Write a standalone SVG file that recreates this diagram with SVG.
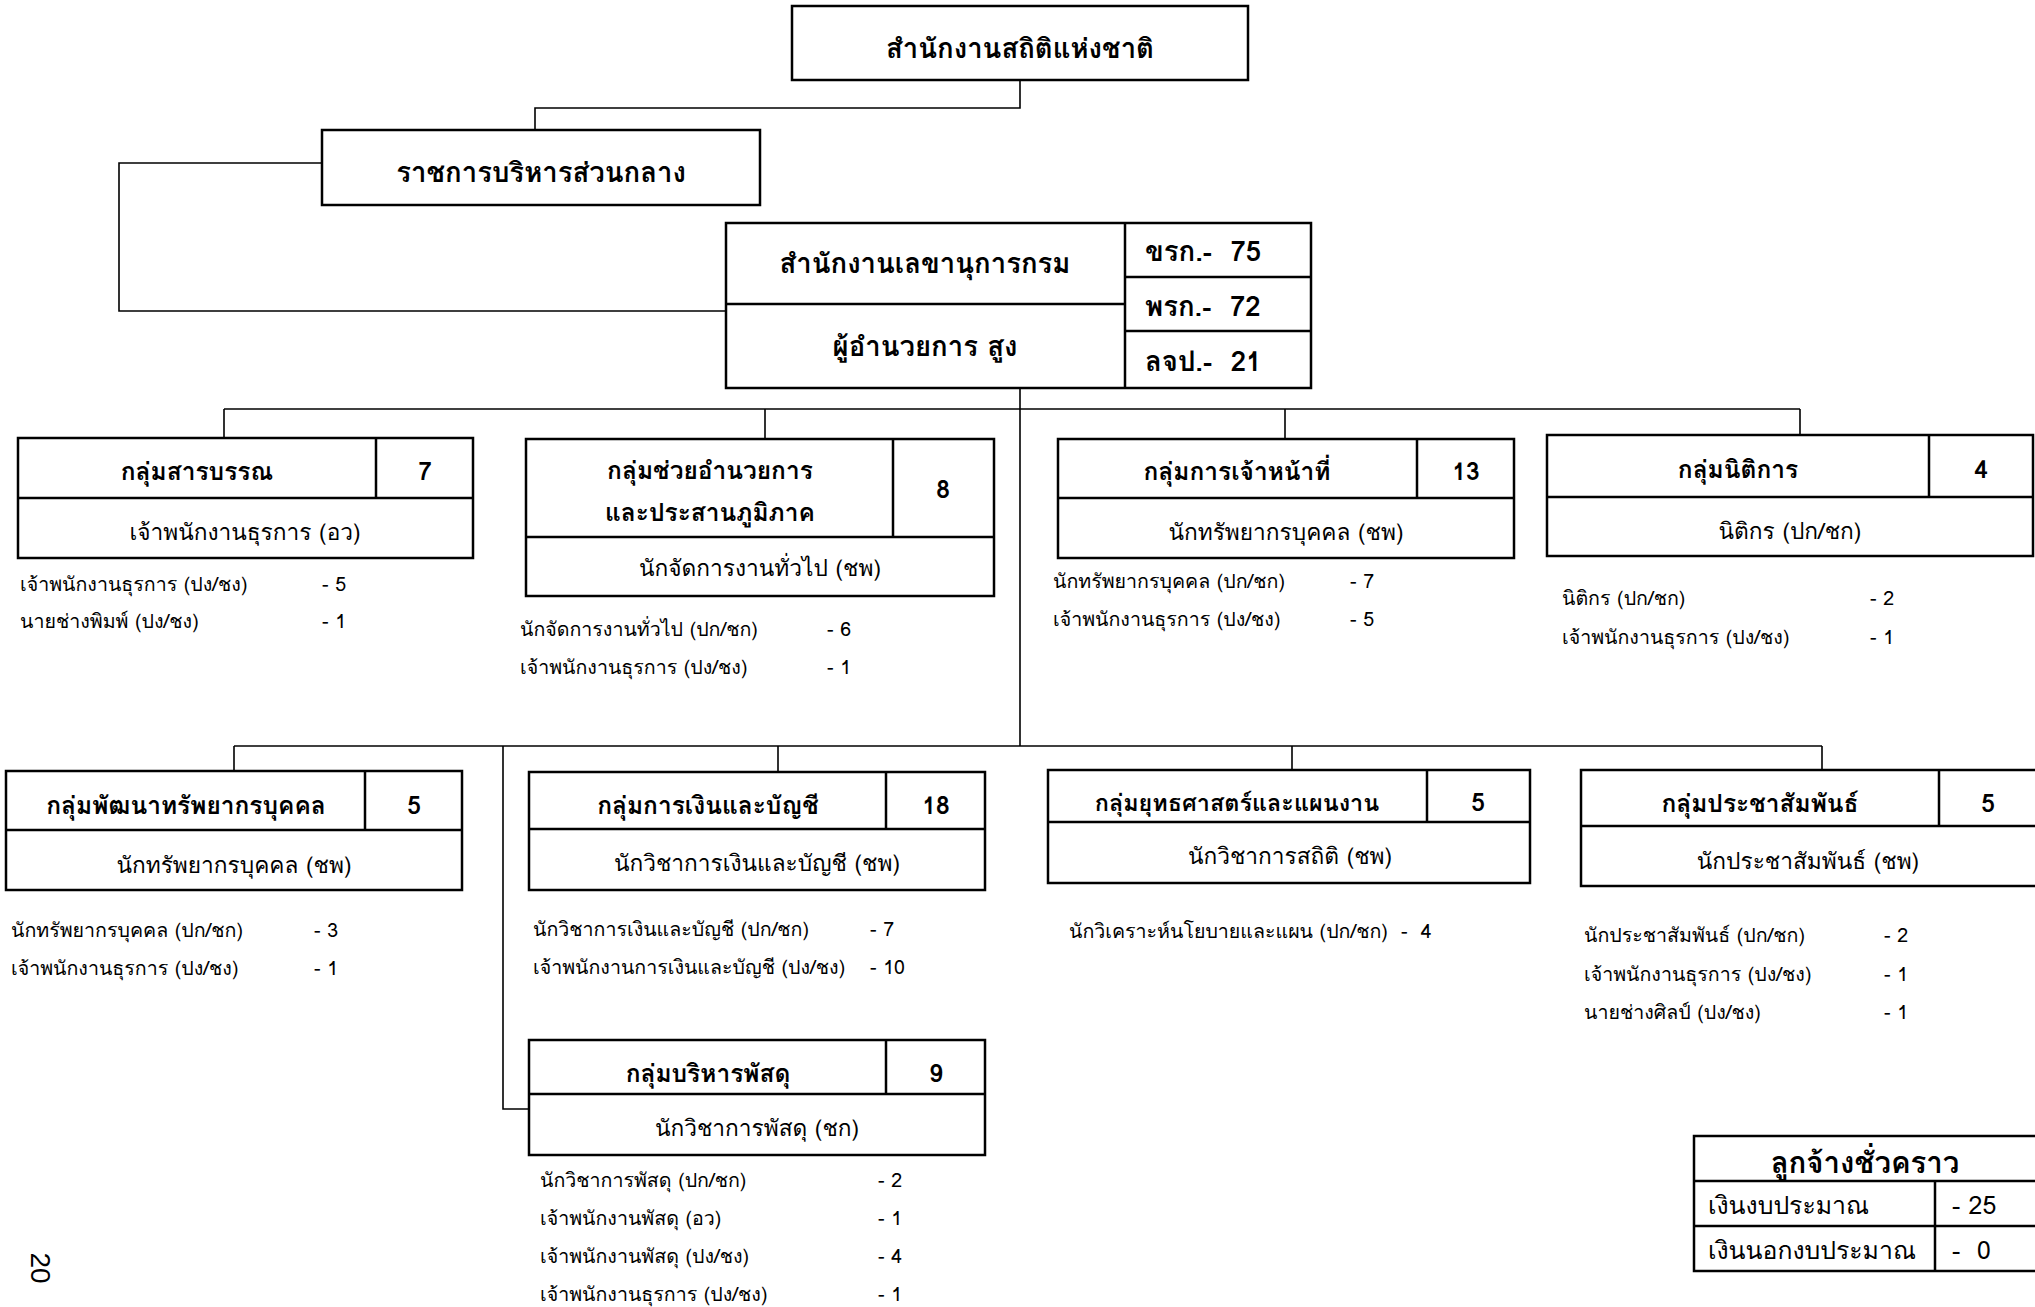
<svg xmlns="http://www.w3.org/2000/svg" width="2035" height="1307" viewBox="0 0 2035 1307">
<style>
.bx{fill:#fff;stroke:#000;stroke-width:2.5}
.dv{stroke:#000;stroke-width:2.5;fill:none}
.ln{stroke:#000;stroke-width:1.6;fill:none}
text{font-family:"Loma","Garuda","Noto Sans Thai Looped","Noto Sans Thai","Leelawadee UI",Tahoma,"Noto Sans",sans-serif;fill:#000;dominant-baseline:central}
.b{font-weight:bold;font-size:24.5px;text-anchor:middle}
.t{font-weight:bold;font-size:27.5px;text-anchor:middle}
.s{font-size:22.7px;text-anchor:middle}
.l{font-size:19.6px}
.n{font-size:19.6px}
.g{font-size:24.8px}
</style>
<g id="connectors">
<path class="ln" d="M1020,80 V108 H535 V130"/>
<path class="ln" d="M322,163 H119 V311 H726"/>
<path class="ln" d="M1020,388 V746"/>
<path class="ln" d="M224,409 H1800"/>
<path class="ln" d="M224,409 V438 M765,409 V439 M1285,409 V439 M1800,409 V435"/>
<path class="ln" d="M234,746 H1822"/>
<path class="ln" d="M234,746 V771 M778,746 V772 M1292,746 V770 M1822,746 V770"/>
<path class="ln" d="M503,746 V1109 H529"/>
</g>
<g id="nso">
<rect class="bx" x="792" y="6" width="456" height="74"/>
<text class="t" x="1020" y="48">สำนักงานสถิติแห่งชาติ</text>
</g>
<g id="central">
<rect class="bx" x="322" y="130" width="438" height="75"/>
<text class="t" x="541" y="172">ราชการบริหารส่วนกลาง</text>
</g>
<g id="secretariat">
<rect class="bx" x="726" y="223" width="585" height="165"/>
<path class="dv" d="M726,304 H1125 M1125,223 V388 M1125,277 H1311 M1125,331 H1311"/>
<text class="t" x="925" y="263">สำนักงานเลขานุการกรม</text>
<text class="t" x="925" y="346">ผู้อำนวยการ สูง</text>
<text class="t" x="1145" y="251" style="text-anchor:start" xml:space="preserve">ขรก.-  75</text>
<text class="t" x="1145" y="306" style="text-anchor:start" xml:space="preserve">พรก.-  72</text>
<text class="t" x="1145" y="361" style="text-anchor:start" xml:space="preserve">ลจป.-  21</text>
</g>
<g id="g-sarabun">
<rect class="bx" x="18" y="438" width="455" height="120"/>
<path class="dv" d="M18,498 H473 M376,438 V498"/>
<text class="b" x="197" y="471">กลุ่มสารบรรณ</text>
<text class="b" x="425" y="471">7</text>
<text class="s" x="245" y="532">เจ้าพนักงานธุรการ (อว)</text>
<text class="l" x="20" y="584">เจ้าพนักงานธุรการ (ปง/ชง)</text><text class="n" x="322" y="584">-  5</text>
<text class="l" x="20" y="621">นายช่างพิมพ์ (ปง/ชง)</text><text class="n" x="322" y="621">-  1</text>
</g>
<g id="g-assist">
<rect class="bx" x="526" y="439" width="468" height="157"/>
<path class="dv" d="M526,537 H994 M893,439 V537"/>
<text class="b" x="710" y="470">กลุ่มช่วยอำนวยการ</text>
<text class="b" x="710" y="512">และประสานภูมิภาค</text>
<text class="b" x="943" y="489">8</text>
<text class="s" x="760" y="568">นักจัดการงานทั่วไป (ชพ)</text>
<text class="l" x="520" y="629">นักจัดการงานทั่วไป (ปก/ชก)</text><text class="n" x="827" y="629">-  6</text>
<text class="l" x="520" y="667">เจ้าพนักงานธุรการ (ปง/ชง)</text><text class="n" x="827" y="667">-  1</text>
</g>
<g id="g-personnel">
<rect class="bx" x="1058" y="439" width="456" height="119"/>
<path class="dv" d="M1058,498 H1514 M1417,439 V498"/>
<text class="b" x="1237" y="471">กลุ่มการเจ้าหน้าที่</text>
<text class="b" x="1466" y="471">13</text>
<text class="s" x="1286" y="532">นักทรัพยากรบุคคล (ชพ)</text>
<text class="l" x="1053" y="581">นักทรัพยากรบุคคล (ปก/ชก)</text><text class="n" x="1350" y="581">-  7</text>
<text class="l" x="1053" y="619">เจ้าพนักงานธุรการ (ปง/ชง)</text><text class="n" x="1350" y="619">-  5</text>
</g>
<g id="g-legal">
<rect class="bx" x="1547" y="435" width="486" height="121"/>
<path class="dv" d="M1547,497 H2033 M1929,435 V497"/>
<text class="b" x="1738" y="469">กลุ่มนิติการ</text>
<text class="b" x="1981" y="469">4</text>
<text class="s" x="1790" y="531">นิติกร (ปก/ชก)</text>
<text class="l" x="1562" y="598">นิติกร (ปก/ชก)</text><text class="n" x="1870" y="598">-  2</text>
<text class="l" x="1562" y="637">เจ้าพนักงานธุรการ (ปง/ชง)</text><text class="n" x="1870" y="637">-  1</text>
</g>
<g id="g-hrd">
<rect class="bx" x="6" y="771" width="456" height="119"/>
<path class="dv" d="M6,830 H462 M365,771 V830"/>
<text class="b" x="186" y="805">กลุ่มพัฒนาทรัพยากรบุคคล</text>
<text class="b" x="414" y="805">5</text>
<text class="s" x="234" y="865">นักทรัพยากรบุคคล (ชพ)</text>
<text class="l" x="11" y="930">นักทรัพยากรบุคคล (ปก/ชก)</text><text class="n" x="314" y="930">-  3</text>
<text class="l" x="11" y="968">เจ้าพนักงานธุรการ (ปง/ชง)</text><text class="n" x="314" y="968">-  1</text>
</g>
<g id="g-finance">
<rect class="bx" x="529" y="772" width="456" height="118"/>
<path class="dv" d="M529,829 H985 M886,772 V829"/>
<text class="b" x="708" y="805">กลุ่มการเงินและบัญชี</text>
<text class="b" x="936" y="805">18</text>
<text class="s" x="757" y="863">นักวิชาการเงินและบัญชี (ชพ)</text>
<text class="l" x="533" y="929">นักวิชาการเงินและบัญชี (ปก/ชก)</text><text class="n" x="870" y="929">-  7</text>
<text class="l" x="533" y="967">เจ้าพนักงานการเงินและบัญชี (ปง/ชง)</text><text class="n" x="870" y="967">-  10</text>
</g>
<g id="g-strategy">
<rect class="bx" x="1048" y="770" width="482" height="113"/>
<path class="dv" d="M1048,822 H1530 M1427,770 V822"/>
<text class="b" x="1237" y="802" style="font-size:23.4px">กลุ่มยุทธศาสตร์และแผนงาน</text>
<text class="b" x="1478" y="802">5</text>
<text class="s" x="1290" y="856">นักวิชาการสถิติ (ชพ)</text>
<text class="l" x="1069" y="931" xml:space="preserve">นักวิเคราะห์นโยบายและแผน (ปก/ชก)  -  4</text>
</g>
<g id="g-pr">
<rect class="bx" x="1581" y="770" width="456" height="116"/>
<path class="dv" d="M1581,826 H2037 M1939,770 V826"/>
<text class="b" x="1760" y="803">กลุ่มประชาสัมพันธ์</text>
<text class="b" x="1988" y="803">5</text>
<text class="s" x="1808" y="861">นักประชาสัมพันธ์ (ชพ)</text>
<text class="l" x="1584" y="935">นักประชาสัมพันธ์ (ปก/ชก)</text><text class="n" x="1884" y="935">-  2</text>
<text class="l" x="1584" y="974">เจ้าพนักงานธุรการ (ปง/ชง)</text><text class="n" x="1884" y="974">-  1</text>
<text class="l" x="1584" y="1012">นายช่างศิลป์ (ปง/ชง)</text><text class="n" x="1884" y="1012">-  1</text>
</g>
<g id="g-supplies">
<rect class="bx" x="529" y="1040" width="456" height="115"/>
<path class="dv" d="M529,1094 H985 M886,1040 V1094"/>
<text class="b" x="708" y="1073">กลุ่มบริหารพัสดุ</text>
<text class="b" x="936" y="1073">9</text>
<text class="s" x="757" y="1128">นักวิชาการพัสดุ (ชก)</text>
<text class="l" x="540" y="1180">นักวิชาการพัสดุ (ปก/ชก)</text><text class="n" x="878" y="1180">-  2</text>
<text class="l" x="540" y="1218">เจ้าพนักงานพัสดุ (อว)</text><text class="n" x="878" y="1218">-  1</text>
<text class="l" x="540" y="1256">เจ้าพนักงานพัสดุ (ปง/ชง)</text><text class="n" x="878" y="1256">-  4</text>
<text class="l" x="540" y="1294">เจ้าพนักงานธุรการ (ปง/ชง)</text><text class="n" x="878" y="1294">-  1</text>
</g>
<g id="temp-staff">
<rect class="bx" x="1694" y="1136" width="343" height="135"/>
<path class="dv" d="M1694,1181 H2037 M1694,1226 H2037 M1935,1181 V1271"/>
<text class="t" x="1865" y="1162" style="font-size:29.4px">ลูกจ้างชั่วคราว</text>
<text class="g" x="1708" y="1205">เงินงบประมาณ</text>
<text class="g" x="1952" y="1205">- 25</text>
<text class="g" x="1708" y="1250">เงินนอกงบประมาณ</text>
<text class="g" x="1952" y="1250" xml:space="preserve">-  0</text>
</g>
<text x="0" y="0" font-size="28" style="font-family:'Liberation Sans',sans-serif" transform="translate(40,1268) rotate(90)" text-anchor="middle">20</text>
</svg>
